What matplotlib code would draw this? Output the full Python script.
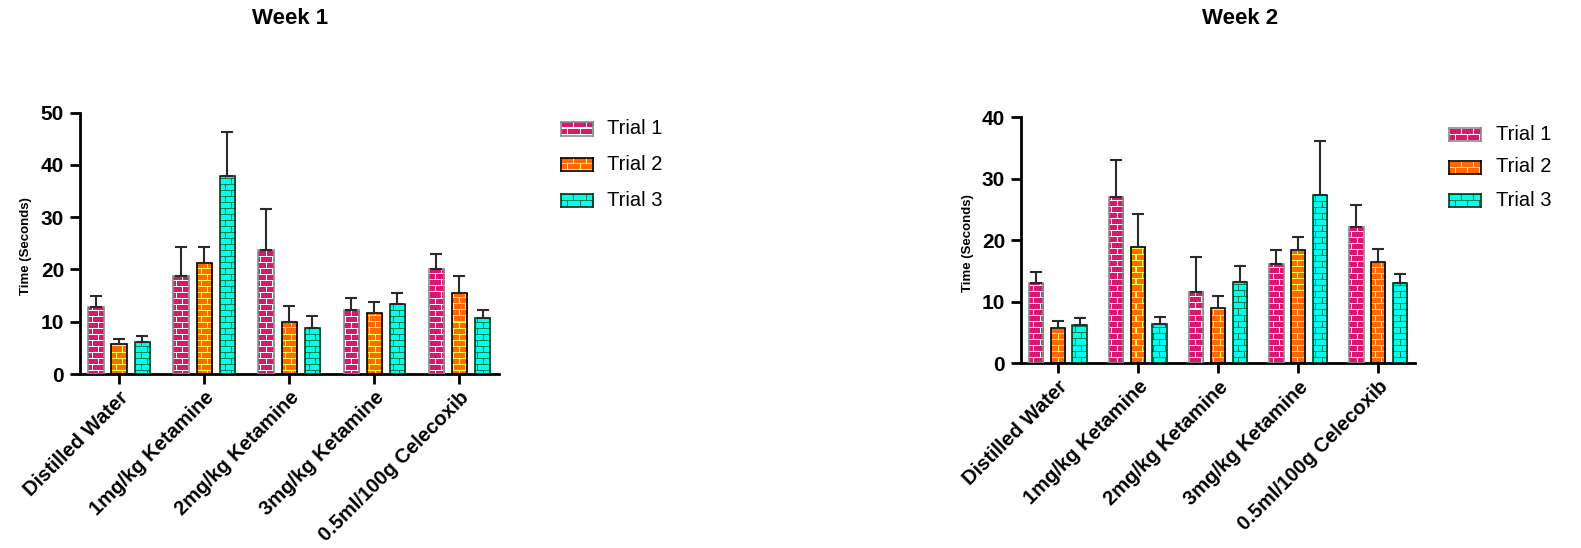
import numpy as np
import matplotlib
matplotlib.use("Agg")
import matplotlib.pyplot as plt
import matplotlib.transforms as mtransforms
from matplotlib.colors import to_rgb

plt.rcParams['font.family'] = ['Liberation Sans', 'DejaVu Sans']

# data
groups = ["Distilled Water", "1mg/kg Ketamine", "2mg/kg Ketamine",
          "3mg/kg Ketamine", "0.5ml/100g Celecoxib"]
trials = ["Trial 1", "Trial 2", "Trial 3"]

w1_trial1 = [12.9, 18.8, 23.7, 12.3, 20.1]
w1_trial2 = [5.8, 21.3, 10.0, 11.7, 15.5]
w1_trial3 = [6.2, 37.8, 8.7, 13.3, 10.8]
w1_err1 = [2.0, 5.4, 7.9, 2.2, 2.8]
w1_err2 = [0.9, 2.9, 3.0, 2.0, 3.2]
w1_err3 = [1.1, 8.4, 2.4, 2.2, 1.5]

w2_trial1 = [13.0, 27.0, 11.6, 16.2, 22.2]
w2_trial2 = [5.8, 18.9, 9.05, 18.4, 16.4]
w2_trial3 = [6.2, 6.45, 13.2, 27.4, 13.0]
w2_err1 = [1.9, 6.0, 5.7, 2.3, 3.6]
w2_err2 = [1.0, 5.3, 1.95, 2.2, 2.2]
w2_err3 = [1.1, 1.15, 2.7, 8.8, 1.6]

# (brick colour, mortar colour, edge colour)
styles = [("#d6186e", "#ffffff", "#8c8c8c"),
          ("#ff6a00", "#ffff40", "#000000"),
          ("#00ffee", "#00804a", "#003d20")]

FW, FH = 1581, 548
fig = plt.figure(figsize=(FW / 100, FH / 100), dpi=100)


def brick_img(h, w, face, mortar, bh=6, bw=12):
    yy, xx = np.mgrid[0:h, 0:w]
    shift = ((yy // bh) % 2) * (bw // 2)
    m = (yy % bh == 0) | ((xx + shift) % bw == 0)
    img = np.empty((h, w, 3))
    img[:] = to_rgb(face)
    img[m] = to_rgb(mortar)
    return img


def px_axes(x0, x1, ytop, ybot):
    return fig.add_axes([x0 / FW, 1 - ybot / FH, (x1 - x0) / FW, (ybot - ytop) / FH])


def draw_week(ax, series, errs, ymax, ylabel_x):
    x = np.arange(len(groups))
    bb = ax.get_window_extent()
    H, W = int(round(bb.height)), int(round(bb.width))
    for i, (vals, err) in enumerate(zip(series, errs)):
        face, mortar, edge = styles[i]
        pos = x + (i - 1) * 0.272
        bars = ax.bar(pos, vals, width=0.18, facecolor='none', edgecolor=edge,
                      linewidth=1.2, zorder=3)
        tex = brick_img(H, W, face, mortar)
        for b in bars:
            im = ax.imshow(tex, extent=(0, 1, 0, 1), transform=ax.transAxes,
                           aspect='auto', interpolation='nearest', zorder=2)
            im.set_clip_path(b)
        ax.errorbar(pos, vals, yerr=[np.zeros(len(vals)), err], fmt='none',
                    ecolor='#2a2a2a', elinewidth=1.5, capsize=4, capthick=1.5, zorder=4)
    ax.set_xlim(-0.46, 4.46)
    ax.set_ylim(0, ymax)
    ax.set_yticks(np.arange(0, ymax + 1, 10))
    ax.set_xticks(x)
    ax.set_xticklabels(groups, rotation=45, ha='right', rotation_mode='anchor',
                       fontsize=14.5, fontweight='bold')
    shift = mtransforms.ScaledTranslation(-4 / 100, -3 / 100, fig.dpi_scale_trans)
    for lab in ax.get_xticklabels():
        lab.set_transform(lab.get_transform() + shift)
    for lab in ax.get_yticklabels():
        lab.set_fontsize(15)
        lab.set_fontweight('bold')
    ax.tick_params(length=7, width=2, direction='out')
    ax.tick_params(axis='x', pad=3)
    ax.tick_params(axis='y', pad=4.5)
    for s in ['top', 'right']:
        ax.spines[s].set_visible(False)
    for s in ['left', 'bottom']:
        ax.spines[s].set_linewidth(2)
    ax.set_ylabel("Time (Seconds)", fontsize=9.5, fontweight='bold')
    ax.yaxis.set_label_coords(ylabel_x, 0.49)


def draw_legend(x0, ys, xtext):
    for i, y in enumerate(ys):
        face, mortar, edge = styles[i]
        sw = px_axes(x0, x0 + 32, y - 6.5, y + 6.5)
        sw.imshow(brick_img(13, 32, face, mortar), aspect='auto', interpolation='nearest')
        sw.set_xticks([])
        sw.set_yticks([])
        for s in sw.spines.values():
            s.set_edgecolor(edge)
            s.set_linewidth(1.2)
        fig.text(xtext / FW, 1 - y / FH, trials[i], fontsize=14.5, va='center', ha='left')


ax1 = px_axes(80, 498.5, 112.5, 374)
draw_week(ax1, [w1_trial1, w1_trial2, w1_trial3], [w1_err1, w1_err2, w1_err3], 50, -0.115)
ax2 = px_axes(1021, 1415, 117.3, 363.3)
draw_week(ax2, [w2_trial1, w2_trial2, w2_trial3], [w2_err1, w2_err2, w2_err3], 40, -0.119)

draw_legend(561, [129, 164, 200], 607)
draw_legend(1449, [134, 167, 200], 1496)

fig.text(290 / FW, 1 - 18 / FH, "Week 1", fontsize=16, fontweight='bold', ha='center', va='center')
fig.text(1240 / FW, 1 - 18 / FH, "Week 2", fontsize=16, fontweight='bold', ha='center', va='center')

fig.savefig("out.png", dpi=100)
